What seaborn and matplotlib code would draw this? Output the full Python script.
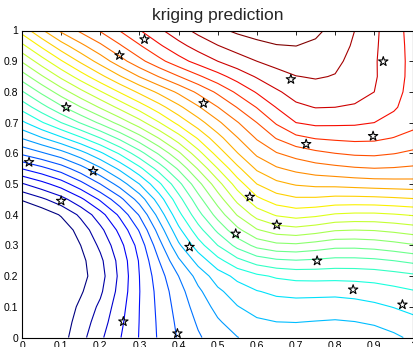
import numpy as np
import pandas as pd
import matplotlib
matplotlib.use("Agg")
import matplotlib.pyplot as plt
import seaborn as sns

# ---- data ----
grid_x = [0.0, 0.1, 0.2, 0.3, 0.4, 0.5, 0.6, 0.7, 0.8, 0.9, 1.0]
grid_y = [0.0, 0.1, 0.2, 0.3, 0.4, 0.5, 0.6, 0.7, 0.8, 0.9, 1.0]

# predicted value (in contour-level units) along each grid row, x = 0 ... 1
row_y00 = [-1.0, 0.6, 2.8, 5.05, 7.1, 8.5, 9.3, 9.5, 9.4, 9.5, 10.2]
row_y01 = [-1.8, 0.3, 2.2, 5.0, 7.4, 9.3, 10.4, 10.6, 10.5, 10.8, 11.3]
row_y02 = [-2.0, -0.1, 1.6, 5.0, 8.0, 10.5, 11.8, 12.3, 12.3, 12.4, 12.8]
row_y03 = [-1.6, 0.0, 2.2, 5.4, 9.8, 13.0, 15.3, 15.8, 15.3, 15.4, 15.9]
row_y04 = [-0.3, 1.1, 3.6, 7.1, 11.7, 15.4, 18.4, 19.4, 18.9, 18.8, 19.1]
row_y05 = [2.9, 4.5, 7.0, 10.0, 13.7, 17.6, 21.0, 22.1, 22.3, 22.5, 22.6]
row_y06 = [7.2, 8.6, 10.8, 13.6, 16.8, 20.4, 23.2, 24.4, 25.0, 25.2, 24.8]
row_y07 = [10.8, 13.0, 15.2, 17.6, 20.3, 22.8, 25.0, 27.0, 27.2, 27.0, 26.3]
row_y08 = [13.9, 16.5, 18.9, 21.2, 23.2, 25.2, 27.1, 28.4, 28.6, 28.0, 26.6]
row_y09 = [17.1, 19.9, 22.4, 24.7, 26.6, 28.0, 29.0, 29.5, 29.2, 28.1, 26.7]
row_y10 = [20.4, 23.2, 25.1, 26.95, 28.6, 29.8, 30.4, 30.5, 29.7, 28.2, 26.6]

contour_levels = list(range(1, 31))

# sample sites (stars)
star_x = [0.018, 0.113, 0.182, 0.100, 0.249, 0.313, 0.464, 0.687, 0.923, 0.726,
          0.897, 0.259, 0.397, 0.428, 0.582, 0.651, 0.546, 0.754, 0.846, 0.972]
star_y = [0.571, 0.750, 0.542, 0.445, 0.919, 0.971, 0.763, 0.841, 0.899, 0.630,
          0.656, 0.052, 0.013, 0.295, 0.458, 0.367, 0.338, 0.250, 0.156, 0.107]

tick_values = [0.0, 0.1, 0.2, 0.3, 0.4, 0.5, 0.6, 0.7, 0.8, 0.9, 1.0]
tick_labels = ["0", "0.1", "0.2", "0.3", "0.4", "0.5", "0.6", "0.7", "0.8", "0.9", "1"]
title_text = "kriging prediction"


# ---- smooth resampling of the read grid (Catmull-Rom) ----
def resample_1d(v, n_out):
    v = np.asarray(v, dtype=float)
    n = len(v)
    p = np.concatenate([[2 * v[0] - v[1]], v, [2 * v[-1] - v[-2]]])
    t = np.linspace(0, n - 1, n_out)
    i = np.minimum(np.floor(t).astype(int), n - 2)
    u = t - i
    P0, P1, P2, P3 = p[i], p[i + 1], p[i + 2], p[i + 3]
    return 0.5 * (2 * P1 + (-P0 + P2) * u + (2 * P0 - 5 * P1 + 4 * P2 - P3) * u ** 2
                  + (-P0 + 3 * P1 - 3 * P2 + P3) * u ** 3)


Z = np.array([row_y00, row_y01, row_y02, row_y03, row_y04, row_y05,
              row_y06, row_y07, row_y08, row_y09, row_y10])
n_fine = 21
Zx = np.array([resample_1d(r, n_fine) for r in Z])
Zf = np.array([resample_1d(Zx[:, j], n_fine) for j in range(n_fine)]).T
xf = np.linspace(grid_x[0], grid_x[-1], n_fine)
yf = np.linspace(grid_y[0], grid_y[-1], n_fine)

# ---- plot ----
sns.set_style("white")
plt.rcParams["font.family"] = ["Liberation Sans", "DejaVu Sans"]

W, H = 413, 347
fig = plt.figure(figsize=(W / 100, H / 100), dpi=100)
ax = fig.add_axes([22 / W, (H - 337.5) / H, 391.4 / W, 307 / H])

ax.contour(xf, yf, Zf, levels=contour_levels, cmap="jet", vmin=contour_levels[0],
           vmax=contour_levels[-1], linewidths=0.8)

stars = pd.DataFrame({"x": star_x, "y": star_y})
sns.scatterplot(data=stars, x="x", y="y", marker="*", s=50, facecolor="none",
                edgecolor="black", linewidth=0.8, ax=ax, zorder=5)

ax.set_xlim(0, 1)
ax.set_ylim(0, 1)
ax.set_xticks(tick_values)
ax.set_xticklabels(tick_labels)
ax.set_yticks(tick_values)
ax.set_yticklabels(tick_labels)
ax.set_xlabel("")
ax.set_ylabel("")
ax.tick_params(direction="in", top=True, right=True, length=3, width=0.6,
               labelsize=7.5, pad=2.5, colors="black")
for sp in ax.spines.values():
    sp.set_visible(True)
    sp.set_color("black")
    sp.set_linewidth(0.8)
ax.set_title(title_text, fontsize=12.5, pad=7.5)

fig.savefig("out.png", dpi=100)
